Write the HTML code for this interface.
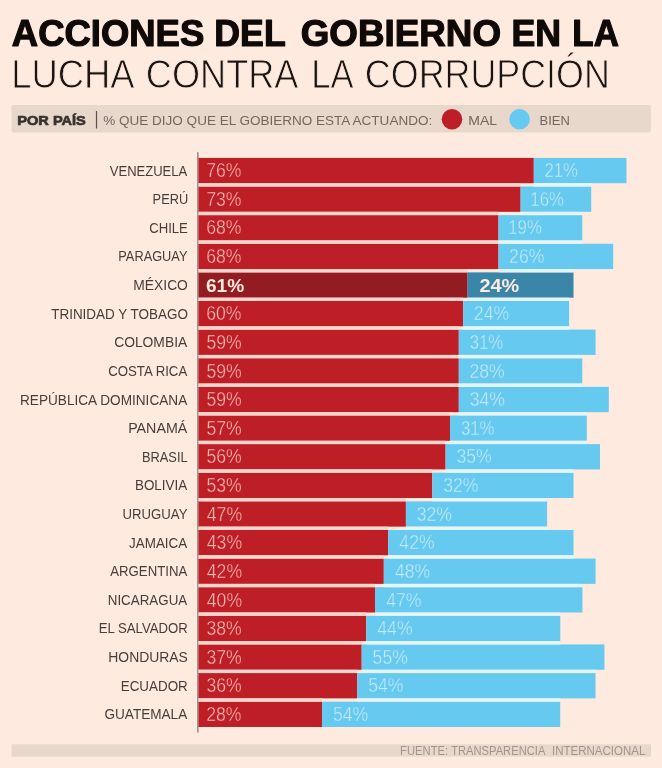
<!DOCTYPE html>
<html lang="es"><head><meta charset="utf-8"><title>Acciones del gobierno en la lucha contra la corrupción</title>
<style>
html,body{margin:0;padding:0;background:#feeade;}
body{width:662px;height:768px;overflow:hidden;}
svg{display:block;}
text{font-family:"Liberation Sans",sans-serif;}
.t1{font-size:37.2px;font-weight:bold;fill:#0f0a08;stroke:#0f0a08;stroke-width:1.2px;stroke-linejoin:round;}
.t2{font-size:40.9px;font-weight:normal;fill:#1a1412;stroke:#feeade;stroke-width:0.9px;stroke-linejoin:round;}
.lab{font-size:14.9px;font-weight:normal;fill:#473e3b;}
.pr{font-size:19.4px;font-weight:normal;fill:#fbbdb5;stroke:#be1e26;stroke-width:0.35px;stroke-linejoin:round;}
.pb{font-size:19.4px;font-weight:normal;fill:#c6eafa;stroke:#66c9ef;stroke-width:0.35px;stroke-linejoin:round;}
.pmr{font-size:19.0px;font-weight:bold;fill:#feeade;}
.pmb{font-size:19.0px;font-weight:bold;fill:#feeade;}
.lg{font-size:12.6px;font-weight:normal;fill:#73665f;}
.lgb{font-size:13.4px;font-weight:bold;fill:#3a322f;stroke:#3a322f;stroke-width:0.7px;stroke-linejoin:round;}
.ft{font-size:13.0px;font-weight:normal;fill:#a0958e;}
</style></head><body>
<svg width="662" height="768" viewBox="0 0 662 768">
<rect x="0" y="0" width="662" height="768" fill="#feeade"/>
<rect x="11.5" y="105" width="639.4" height="27.4" rx="1.8" ry="1.8" fill="#e8d7cb"/>
<rect x="95.9" y="111" width="1.2" height="17.5" fill="#5a504c"/>
<circle cx="452" cy="119.3" r="10.3" fill="#be1e26"/>
<circle cx="519.6" cy="119.3" r="10.3" fill="#66c9ef"/>
<rect x="11.5" y="744.3" width="639.5" height="12.4" fill="#e8d7cb"/>
<rect x="197.2" y="152.2" width="1.3" height="580.3" fill="#857a74"/>
<rect x="198.5" y="157.90" width="335.3" height="25.3" fill="#be1e26"/><rect x="533.8" y="157.90" width="92.7" height="25.3" fill="#66c9ef"/>
<rect x="198.5" y="186.52" width="322.1" height="25.3" fill="#be1e26"/><rect x="520.6" y="186.52" width="70.6" height="25.3" fill="#66c9ef"/>
<rect x="198.5" y="215.14" width="300.0" height="25.3" fill="#be1e26"/><rect x="498.5" y="215.14" width="83.8" height="25.3" fill="#66c9ef"/>
<rect x="198.5" y="243.76" width="300.0" height="25.3" fill="#be1e26"/><rect x="498.5" y="243.76" width="114.7" height="25.3" fill="#66c9ef"/>
<rect x="198.5" y="272.38" width="269.1" height="25.3" fill="#931b22"/><rect x="467.6" y="272.38" width="105.9" height="25.3" fill="#3a86a9"/>
<rect x="198.5" y="301.00" width="264.7" height="25.3" fill="#be1e26"/><rect x="463.2" y="301.00" width="105.9" height="25.3" fill="#66c9ef"/>
<rect x="198.5" y="329.62" width="260.3" height="25.3" fill="#be1e26"/><rect x="458.8" y="329.62" width="136.8" height="25.3" fill="#66c9ef"/>
<rect x="198.5" y="358.24" width="260.3" height="25.3" fill="#be1e26"/><rect x="458.8" y="358.24" width="123.5" height="25.3" fill="#66c9ef"/>
<rect x="198.5" y="386.86" width="260.3" height="25.3" fill="#be1e26"/><rect x="458.8" y="386.86" width="150.0" height="25.3" fill="#66c9ef"/>
<rect x="198.5" y="415.48" width="251.5" height="25.3" fill="#be1e26"/><rect x="450.0" y="415.48" width="136.8" height="25.3" fill="#66c9ef"/>
<rect x="198.5" y="444.10" width="247.1" height="25.3" fill="#be1e26"/><rect x="445.6" y="444.10" width="154.4" height="25.3" fill="#66c9ef"/>
<rect x="198.5" y="472.72" width="233.8" height="25.3" fill="#be1e26"/><rect x="432.3" y="472.72" width="141.2" height="25.3" fill="#66c9ef"/>
<rect x="198.5" y="501.34" width="207.4" height="25.3" fill="#be1e26"/><rect x="405.9" y="501.34" width="141.2" height="25.3" fill="#66c9ef"/>
<rect x="198.5" y="529.96" width="189.7" height="25.3" fill="#be1e26"/><rect x="388.2" y="529.96" width="185.3" height="25.3" fill="#66c9ef"/>
<rect x="198.5" y="558.58" width="185.3" height="25.3" fill="#be1e26"/><rect x="383.8" y="558.58" width="211.8" height="25.3" fill="#66c9ef"/>
<rect x="198.5" y="587.20" width="176.5" height="25.3" fill="#be1e26"/><rect x="375.0" y="587.20" width="207.4" height="25.3" fill="#66c9ef"/>
<rect x="198.5" y="615.82" width="167.7" height="25.3" fill="#be1e26"/><rect x="366.2" y="615.82" width="194.1" height="25.3" fill="#66c9ef"/>
<rect x="198.5" y="644.44" width="163.2" height="25.3" fill="#be1e26"/><rect x="361.7" y="644.44" width="242.7" height="25.3" fill="#66c9ef"/>
<rect x="198.5" y="673.06" width="158.8" height="25.3" fill="#be1e26"/><rect x="357.3" y="673.06" width="238.2" height="25.3" fill="#66c9ef"/>
<rect x="198.5" y="701.68" width="123.5" height="25.3" fill="#be1e26"/><rect x="322.0" y="701.68" width="238.2" height="25.3" fill="#66c9ef"/>
<rect x="198.5" y="183.20" width="322.1" height="3.32" fill="#fdd5cd"/><rect x="533.8" y="183.20" width="57.4" height="3.32" fill="#e4f5f8"/>
<rect x="198.5" y="211.82" width="300.0" height="3.32" fill="#fdd5cd"/><rect x="520.6" y="211.82" width="61.8" height="3.32" fill="#e4f5f8"/>
<rect x="198.5" y="240.44" width="300.0" height="3.32" fill="#fdd5cd"/><rect x="498.5" y="240.44" width="83.8" height="3.32" fill="#e4f5f8"/>
<rect x="198.5" y="269.06" width="269.1" height="3.32" fill="#fdd5cd"/><rect x="498.5" y="269.06" width="75.0" height="3.32" fill="#e4f5f8"/>
<rect x="198.5" y="297.68" width="264.7" height="3.32" fill="#fdd5cd"/><rect x="467.6" y="297.68" width="101.5" height="3.32" fill="#e4f5f8"/>
<rect x="198.5" y="326.30" width="260.3" height="3.32" fill="#fdd5cd"/><rect x="463.2" y="326.30" width="105.9" height="3.32" fill="#e4f5f8"/>
<rect x="198.5" y="354.92" width="260.3" height="3.32" fill="#fdd5cd"/><rect x="458.8" y="354.92" width="123.5" height="3.32" fill="#e4f5f8"/>
<rect x="198.5" y="383.54" width="260.3" height="3.32" fill="#fdd5cd"/><rect x="458.8" y="383.54" width="123.5" height="3.32" fill="#e4f5f8"/>
<rect x="198.5" y="412.16" width="251.5" height="3.32" fill="#fdd5cd"/><rect x="458.8" y="412.16" width="127.9" height="3.32" fill="#e4f5f8"/>
<rect x="198.5" y="440.78" width="247.1" height="3.32" fill="#fdd5cd"/><rect x="450.0" y="440.78" width="136.8" height="3.32" fill="#e4f5f8"/>
<rect x="198.5" y="469.40" width="233.8" height="3.32" fill="#fdd5cd"/><rect x="445.6" y="469.40" width="127.9" height="3.32" fill="#e4f5f8"/>
<rect x="198.5" y="498.02" width="207.4" height="3.32" fill="#fdd5cd"/><rect x="432.3" y="498.02" width="114.7" height="3.32" fill="#e4f5f8"/>
<rect x="198.5" y="526.64" width="189.7" height="3.32" fill="#fdd5cd"/><rect x="405.9" y="526.64" width="141.2" height="3.32" fill="#e4f5f8"/>
<rect x="198.5" y="555.26" width="185.3" height="3.32" fill="#fdd5cd"/><rect x="388.2" y="555.26" width="185.3" height="3.32" fill="#e4f5f8"/>
<rect x="198.5" y="583.88" width="176.5" height="3.32" fill="#fdd5cd"/><rect x="383.8" y="583.88" width="198.5" height="3.32" fill="#e4f5f8"/>
<rect x="198.5" y="612.50" width="167.7" height="3.32" fill="#fdd5cd"/><rect x="375.0" y="612.50" width="185.3" height="3.32" fill="#e4f5f8"/>
<rect x="198.5" y="641.12" width="163.2" height="3.32" fill="#fdd5cd"/><rect x="366.2" y="641.12" width="194.1" height="3.32" fill="#e4f5f8"/>
<rect x="198.5" y="669.74" width="158.8" height="3.32" fill="#fdd5cd"/><rect x="361.7" y="669.74" width="233.8" height="3.32" fill="#e4f5f8"/>
<rect x="198.5" y="698.36" width="123.5" height="3.32" fill="#fdd5cd"/><rect x="357.3" y="698.36" width="203.0" height="3.32" fill="#e4f5f8"/>
<text class="t1" x="11.83" y="45.7" textLength="192.43" lengthAdjust="spacingAndGlyphs">ACCIONES</text>
<text class="t1" x="214.37" y="45.7" textLength="71.34" lengthAdjust="spacingAndGlyphs">DEL</text>
<text class="t1" x="300.65" y="45.7" textLength="200.37" lengthAdjust="spacingAndGlyphs">GOBIERNO</text>
<text class="t1" x="511.57" y="45.7" textLength="49.58" lengthAdjust="spacingAndGlyphs">EN</text>
<text class="t1" x="572.32" y="45.7" textLength="46.55" lengthAdjust="spacingAndGlyphs">LA</text>
<text class="t2" x="11.20" y="87.9" textLength="123.47" lengthAdjust="spacingAndGlyphs">LUCHA</text>
<text class="t2" x="145.86" y="87.9" textLength="152.62" lengthAdjust="spacingAndGlyphs">CONTRA</text>
<text class="t2" x="311.35" y="87.9" textLength="42.34" lengthAdjust="spacingAndGlyphs">LA</text>
<text class="t2" x="364.87" y="87.9" textLength="245.00" lengthAdjust="spacingAndGlyphs">CORRUPCIÓN</text>
<text class="lgb" x="17.24" y="125.1" textLength="68.60" lengthAdjust="spacingAndGlyphs">POR PAÍS</text>
<text class="lg" x="103.28" y="124.6" textLength="328.93" lengthAdjust="spacingAndGlyphs">% QUE DIJO QUE EL GOBIERNO ESTA ACTUANDO:</text>
<text class="lg" x="468.30" y="124.6" textLength="28.85" lengthAdjust="spacingAndGlyphs">MAL</text>
<text class="lg" x="539.59" y="124.6" textLength="30.27" lengthAdjust="spacingAndGlyphs">BIEN</text>
<text class="lab" x="109.80" y="175.5" textLength="77.44" lengthAdjust="spacingAndGlyphs">VENEZUELA</text>
<text class="pr" x="206.20" y="177.2" textLength="35.33" lengthAdjust="spacingAndGlyphs">76%</text>
<text class="pb" x="544.45" y="177.2" textLength="33.57" lengthAdjust="spacingAndGlyphs">21%</text>
<text class="lab" x="152.60" y="204.1" textLength="35.54" lengthAdjust="spacingAndGlyphs">PERÚ</text>
<text class="pr" x="206.20" y="205.8" textLength="35.33" lengthAdjust="spacingAndGlyphs">73%</text>
<text class="pb" x="530.35" y="205.8" textLength="33.57" lengthAdjust="spacingAndGlyphs">16%</text>
<text class="lab" x="149.18" y="232.7" textLength="38.67" lengthAdjust="spacingAndGlyphs">CHILE</text>
<text class="pr" x="206.20" y="234.4" textLength="35.33" lengthAdjust="spacingAndGlyphs">68%</text>
<text class="pb" x="508.29" y="234.4" textLength="33.57" lengthAdjust="spacingAndGlyphs">19%</text>
<text class="lab" x="118.30" y="261.4" textLength="69.14" lengthAdjust="spacingAndGlyphs">PARAGUAY</text>
<text class="pr" x="206.20" y="263.1" textLength="35.33" lengthAdjust="spacingAndGlyphs">68%</text>
<text class="pb" x="509.11" y="263.1" textLength="35.33" lengthAdjust="spacingAndGlyphs">26%</text>
<text class="lab" x="133.32" y="290.0" textLength="54.58" lengthAdjust="spacingAndGlyphs">MÉXICO</text>
<text class="pmr" x="205.90" y="292.0" textLength="38.27" lengthAdjust="spacingAndGlyphs">61%</text>
<text class="pmb" x="479.48" y="292.0" textLength="39.80" lengthAdjust="spacingAndGlyphs">24%</text>
<text class="lab" x="51.19" y="318.6" textLength="136.69" lengthAdjust="spacingAndGlyphs">TRINIDAD Y TOBAGO</text>
<text class="pr" x="206.20" y="320.3" textLength="35.33" lengthAdjust="spacingAndGlyphs">60%</text>
<text class="pb" x="473.82" y="320.3" textLength="35.33" lengthAdjust="spacingAndGlyphs">24%</text>
<text class="lab" x="114.15" y="347.2" textLength="73.08" lengthAdjust="spacingAndGlyphs">COLOMBIA</text>
<text class="pr" x="206.47" y="348.9" textLength="35.33" lengthAdjust="spacingAndGlyphs">59%</text>
<text class="pb" x="469.71" y="348.9" textLength="33.57" lengthAdjust="spacingAndGlyphs">31%</text>
<text class="lab" x="108.19" y="375.8" textLength="79.05" lengthAdjust="spacingAndGlyphs">COSTA RICA</text>
<text class="pr" x="206.47" y="377.5" textLength="35.33" lengthAdjust="spacingAndGlyphs">59%</text>
<text class="pb" x="469.41" y="377.5" textLength="35.33" lengthAdjust="spacingAndGlyphs">28%</text>
<text class="lab" x="20.04" y="404.5" textLength="167.19" lengthAdjust="spacingAndGlyphs">REPÚBLICA DOMINICANA</text>
<text class="pr" x="206.47" y="406.2" textLength="35.33" lengthAdjust="spacingAndGlyphs">59%</text>
<text class="pb" x="469.68" y="406.2" textLength="35.33" lengthAdjust="spacingAndGlyphs">34%</text>
<text class="lab" x="128.19" y="433.1" textLength="59.04" lengthAdjust="spacingAndGlyphs">PANAMÁ</text>
<text class="pr" x="206.47" y="434.8" textLength="35.33" lengthAdjust="spacingAndGlyphs">57%</text>
<text class="pb" x="460.88" y="434.8" textLength="33.57" lengthAdjust="spacingAndGlyphs">31%</text>
<text class="lab" x="141.90" y="461.7" textLength="45.72" lengthAdjust="spacingAndGlyphs">BRASIL</text>
<text class="pr" x="206.47" y="463.4" textLength="35.33" lengthAdjust="spacingAndGlyphs">56%</text>
<text class="pb" x="456.45" y="463.4" textLength="35.33" lengthAdjust="spacingAndGlyphs">35%</text>
<text class="lab" x="134.95" y="490.3" textLength="52.28" lengthAdjust="spacingAndGlyphs">BOLIVIA</text>
<text class="pr" x="206.47" y="492.0" textLength="35.33" lengthAdjust="spacingAndGlyphs">53%</text>
<text class="pb" x="443.21" y="492.0" textLength="35.33" lengthAdjust="spacingAndGlyphs">32%</text>
<text class="lab" x="122.48" y="518.9" textLength="64.97" lengthAdjust="spacingAndGlyphs">URUGUAY</text>
<text class="pr" x="206.75" y="520.6" textLength="35.33" lengthAdjust="spacingAndGlyphs">47%</text>
<text class="pb" x="416.74" y="520.6" textLength="35.33" lengthAdjust="spacingAndGlyphs">32%</text>
<text class="lab" x="129.09" y="547.6" textLength="58.14" lengthAdjust="spacingAndGlyphs">JAMAICA</text>
<text class="pr" x="206.75" y="549.3" textLength="35.33" lengthAdjust="spacingAndGlyphs">43%</text>
<text class="pb" x="399.37" y="549.3" textLength="35.33" lengthAdjust="spacingAndGlyphs">42%</text>
<text class="lab" x="110.30" y="576.2" textLength="76.94" lengthAdjust="spacingAndGlyphs">ARGENTINA</text>
<text class="pr" x="206.75" y="577.9" textLength="35.33" lengthAdjust="spacingAndGlyphs">42%</text>
<text class="pb" x="394.95" y="577.9" textLength="35.33" lengthAdjust="spacingAndGlyphs">48%</text>
<text class="lab" x="107.76" y="604.8" textLength="79.48" lengthAdjust="spacingAndGlyphs">NICARAGUA</text>
<text class="pr" x="206.75" y="606.5" textLength="35.33" lengthAdjust="spacingAndGlyphs">40%</text>
<text class="pb" x="386.13" y="606.5" textLength="35.33" lengthAdjust="spacingAndGlyphs">47%</text>
<text class="lab" x="98.68" y="633.4" textLength="89.08" lengthAdjust="spacingAndGlyphs">EL SALVADOR</text>
<text class="pr" x="206.47" y="635.1" textLength="35.33" lengthAdjust="spacingAndGlyphs">38%</text>
<text class="pb" x="377.31" y="635.1" textLength="35.33" lengthAdjust="spacingAndGlyphs">44%</text>
<text class="lab" x="108.31" y="662.0" textLength="79.57" lengthAdjust="spacingAndGlyphs">HONDURAS</text>
<text class="pr" x="206.47" y="663.7" textLength="35.33" lengthAdjust="spacingAndGlyphs">37%</text>
<text class="pb" x="372.62" y="663.7" textLength="35.33" lengthAdjust="spacingAndGlyphs">55%</text>
<text class="lab" x="120.75" y="690.7" textLength="67.01" lengthAdjust="spacingAndGlyphs">ECUADOR</text>
<text class="pr" x="206.47" y="692.4" textLength="35.33" lengthAdjust="spacingAndGlyphs">36%</text>
<text class="pb" x="368.21" y="692.4" textLength="35.33" lengthAdjust="spacingAndGlyphs">54%</text>
<text class="lab" x="104.46" y="719.3" textLength="82.77" lengthAdjust="spacingAndGlyphs">GUATEMALA</text>
<text class="pr" x="206.20" y="721.0" textLength="35.33" lengthAdjust="spacingAndGlyphs">28%</text>
<text class="pb" x="332.91" y="721.0" textLength="35.33" lengthAdjust="spacingAndGlyphs">54%</text>
<text class="ft" x="400.12" y="755.4" textLength="47.99" lengthAdjust="spacingAndGlyphs">FUENTE:</text>
<text class="ft" x="451.13" y="755.4" textLength="94.22" lengthAdjust="spacingAndGlyphs">TRANSPARENCIA</text>
<text class="ft" x="552.00" y="755.4" textLength="93.28" lengthAdjust="spacingAndGlyphs">INTERNACIONAL</text>
</svg>
</body></html>
